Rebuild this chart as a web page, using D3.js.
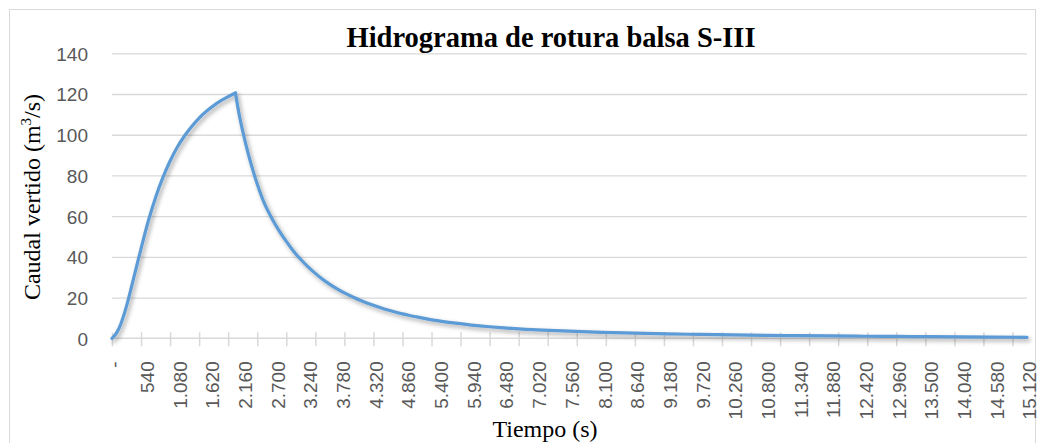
<!DOCTYPE html>
<html>
<head>
<meta charset="utf-8">
<script src="https://cdn.jsdelivr.net/npm/d3@7"></script>
<style>
  html, body { margin: 0; padding: 0; background: #fff; }
  svg { display: block; }
</style>
</head>
<body>
<svg id="chart" width="1041" height="443"></svg>
<script>
// Dam-break outflow hydrograph, balsa S-III
const timeS = [0, 60, 120, 240, 360, 480, 600, 720, 840, 960,
  1080, 1200, 1320, 1440, 1560, 1680, 1800, 1920, 2040,
  2100, 2160, 2220, 2280, 2340, 2400,
  2520, 2640, 2760, 2880, 3000,
  3120, 3240, 3360, 3480, 3600,
  3720, 3840, 3960, 4080, 4200,
  4320, 4440, 4560, 4680, 4800,
  4920, 5040, 5160, 5400, 5640,
  5940, 6240, 6480, 6840, 7020,
  7560, 8100, 8640, 9180, 9720,
  10260, 10800, 11340, 11880, 12420,
  12960, 13500, 14040, 14580, 15120];

const caudal = [0, 2.0, 5.2, 15.8, 29.8, 44.1, 57.6, 69.2, 78.9, 87.1,
  94.0, 99.5, 104.2, 108.2, 111.5, 114.3, 116.7, 118.7, 120.5,
  110.2, 101.8, 94.3, 87.5, 81.4, 75.8,
  66.1, 59.0, 52.9, 47.6, 42.8,
  38.7, 35.1, 31.9, 29.0, 26.5,
  24.3, 22.3, 20.6, 18.9, 17.5,
  16.2, 15.0, 13.9, 12.9, 12.0,
  11.2, 10.5, 9.8, 8.55, 7.55,
  6.5, 5.66, 5.09, 4.41, 4.16,
  3.49, 2.95, 2.55, 2.2, 1.9,
  1.65, 1.45, 1.3, 1.15, 1.0,
  0.9, 0.8, 0.7, 0.6, 0.5];

const xTickLabels = ["-", "540", "1.080", "1.620", "2.160", "2.700", "3.240", "3.780",
  "4.320", "4.860", "5.400", "5.940", "6.480", "7.020", "7.560", "8.100", "8.640",
  "9.180", "9.720", "10.260", "10.800", "11.340", "11.880", "12.420", "12.960",
  "13.500", "14.040", "14.580", "15.120"];
const xLabelStep = 540;   // seconds between labels
const xTickStep = 480;    // seconds between tick marks
const yTicks = [0, 20, 40, 60, 80, 100, 120, 140];

const titleText = "Hidrograma de rotura balsa S-III";
const xTitle = "Tiempo (s)";

const svg = d3.select("#chart");
const plotLeft = 112, plotRight = 1027, plotTop = 53.3, plotBottom = 338.3;

const x = d3.scaleLinear().domain([0, 15120]).range([plotLeft, plotRight]);
const y = d3.scaleLinear().domain([0, 140]).range([plotBottom, plotTop]);

// chart frame
svg.append("rect")
  .attr("x", 9.5).attr("y", 9.5).attr("width", 1026).attr("height", 450)
  .attr("fill", "#fff").attr("stroke", "#d9d9d9").attr("stroke-width", 1);

// shadow for the series line
const defs = svg.append("defs");
const f = defs.append("filter").attr("id", "shadow")
  .attr("x", "-5%").attr("y", "-5%").attr("width", "110%").attr("height", "115%");
f.append("feDropShadow").attr("dx", 2).attr("dy", 2.5).attr("stdDeviation", 2)
  .attr("flood-color", "#000").attr("flood-opacity", 0.35);

// y axis with gridlines
const gy = svg.append("g").attr("transform", `translate(${plotLeft},0)`)
  .call(d3.axisLeft(y).tickValues(yTicks).tickSize(-(plotRight - plotLeft)).tickPadding(24));
gy.select(".domain").remove();
gy.selectAll(".tick line").attr("stroke", "#d9d9d9").attr("stroke-width", 1.3)
  .filter(d => d === 0).remove();
gy.selectAll(".tick text")
  .attr("fill", "#595959").style("font-family", "'Liberation Sans', Arial, sans-serif")
  .style("font-size", "19px").attr("dy", "0.36em");

// x axis line and cross tick marks
const gx = svg.append("g").attr("transform", `translate(0,${plotBottom})`);
gx.append("line").attr("x1", plotLeft).attr("x2", plotRight).attr("y1", 0).attr("y2", 0)
  .attr("stroke", "#d9d9d9").attr("stroke-width", 1.5);
const tickAxis = d3.axisBottom(x).tickValues(d3.range(0, 15120, xTickStep)).tickSize(8).tickFormat("");
const gt = gx.append("g").call(tickAxis);
gt.select(".domain").remove();
gt.selectAll(".tick line").attr("y1", -6).attr("stroke", "#d9d9d9").attr("stroke-width", 1.5);

// rotated category labels
const labelAxis = d3.axisBottom(x)
  .tickValues(xTickLabels.map((_, i) => i * xLabelStep))
  .tickSize(0)
  .tickFormat((d, i) => xTickLabels[i]);
const gl = svg.append("g").attr("transform", `translate(2,${plotBottom})`).call(labelAxis);
gl.select(".domain").remove();
gl.selectAll(".tick text")
  .attr("transform", "rotate(-90)")
  .attr("x", -23).attr("y", 0).attr("dy", "0.36em")
  .style("text-anchor", "end")
  .attr("fill", "#595959")
  .style("font-family", "'Liberation Sans', Arial, sans-serif")
  .style("font-size", "19px");

// series: rising limb and recession drawn separately so the peak keeps its corner
const pts = timeS.map((t, i) => [t, caudal[i]]);
const peakIdx = caudal.indexOf(d3.max(caudal));
const line = d3.line().x(d => x(d[0])).y(d => y(d[1])).curve(d3.curveMonotoneX);
const gs = svg.append("g").attr("filter", "url(#shadow)");
[pts.slice(0, peakIdx + 1), pts.slice(peakIdx)].forEach(seg => {
  gs.append("path").attr("d", line(seg))
    .attr("fill", "none").attr("stroke", "#5b9bd5").attr("stroke-width", 3.2)
    .attr("stroke-linejoin", "round").attr("stroke-linecap", "round");
});

// titles
svg.append("text").attr("x", 551).attr("y", 47).attr("text-anchor", "middle")
  .style("font-family", "'Liberation Serif', 'Times New Roman', serif")
  .style("font-weight", "bold").style("font-size", "28.5px").attr("fill", "#000")
  .text(titleText);

svg.append("text").attr("x", 545).attr("y", 437).attr("text-anchor", "middle")
  .style("font-family", "'Liberation Serif', 'Times New Roman', serif")
  .style("font-size", "24px").attr("fill", "#000")
  .text(xTitle);

const yt = svg.append("text")
  .attr("transform", "translate(40,197) rotate(-90)").attr("text-anchor", "middle")
  .style("font-family", "'Liberation Serif', 'Times New Roman', serif")
  .style("font-size", "24px").attr("fill", "#000");
yt.append("tspan").text("Caudal vertido (m");
yt.append("tspan").text("3").style("font-size", "15px").attr("dy", "-9");
yt.append("tspan").text("/s)").attr("dy", "9");
</script>
</body>
</html>
